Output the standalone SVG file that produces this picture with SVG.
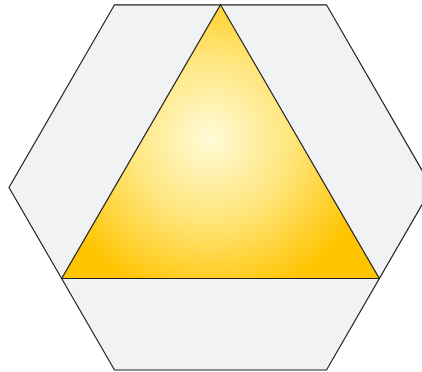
<svg xmlns="http://www.w3.org/2000/svg" width="422" height="372" viewBox="0 0 422 372">
<defs>
<radialGradient id="g" gradientUnits="userSpaceOnUse" cx="210" cy="138" r="165">
<stop offset="0" stop-color="#fffbd8"/>
<stop offset="0.5" stop-color="#ffe57a"/>
<stop offset="1" stop-color="#ffc400"/>
</radialGradient>
<style>
.s{stroke:#222;stroke-width:1.2;stroke-linejoin:miter}
</style>
</defs>
<g id="hexagon">
<polygon class="s" fill="#f1f2f4" points="114.5,4.8 326.5,4.8 432,187.5 326.5,370 114.5,370 9,187.5"/>
</g>
<g id="band">
<line class="s" x1="61.7" y1="278.5" x2="379.3" y2="278.5"/>
</g>
<g id="triangle">
<polygon class="s" fill="url(#g)" points="220.5,4.8 379.3,278.5 61.7,278.5"/>
</g>
</svg>
